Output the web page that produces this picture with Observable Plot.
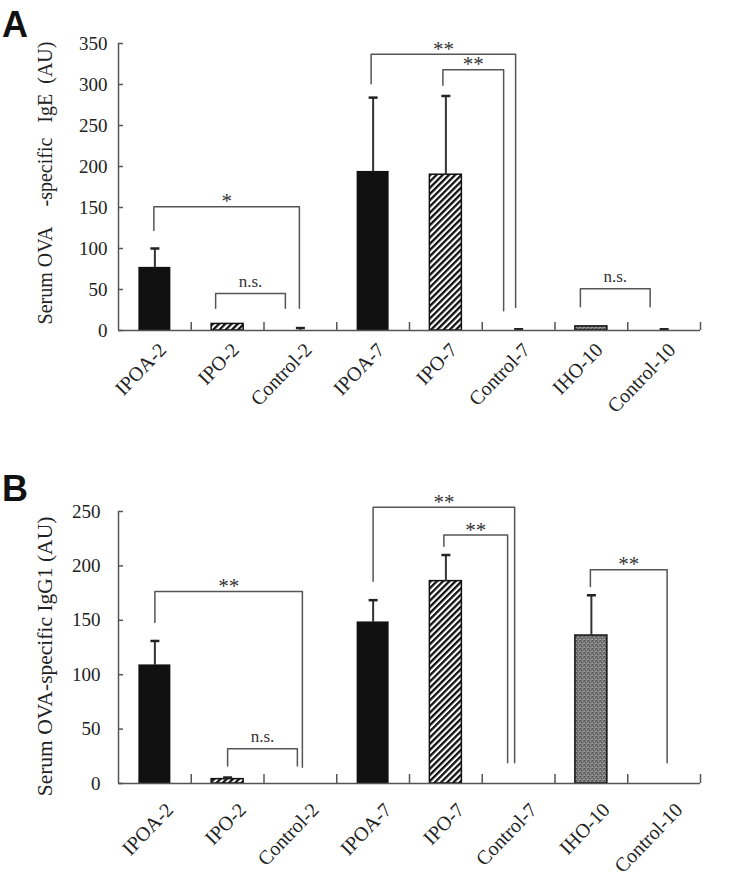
<!DOCTYPE html>
<html><head><meta charset="utf-8">
<script src="https://cdn.jsdelivr.net/npm/d3@7"></script>
<script src="https://cdn.jsdelivr.net/npm/@observablehq/plot@0.6"></script>
<style>
body{margin:0;background:#fff;width:729px;height:888px;position:relative;overflow:hidden;font-family:"Liberation Serif",serif;}
.panel{position:absolute;left:0;}
.letter{position:absolute;font-family:"Liberation Sans",Arial,sans-serif;font-weight:bold;font-size:36px;line-height:1;color:#111;}
</style></head><body>
<svg width="0" height="0" style="position:absolute">
<defs>
  <pattern id="hatch" width="4.4" height="4.4" patternUnits="userSpaceOnUse" patternTransform="rotate(45)">
    <rect width="4.4" height="4.4" fill="#fff"/>
    <rect width="2.3" height="4.4" fill="#111"/>
  </pattern>
  <pattern id="stipple" width="4" height="4" patternUnits="userSpaceOnUse">
    <rect width="4" height="4" fill="#7a7a7a"/>
    <rect x="0" y="0" width="1" height="1" fill="#4a4a4a"/>
    <rect x="2" y="1" width="1" height="1" fill="#a0a0a0"/>
    <rect x="1" y="2" width="1" height="1" fill="#505050"/>
    <rect x="3" y="3" width="1" height="1" fill="#989898"/>
    <rect x="3" y="1" width="1" height="1" fill="#5a5a5a"/>
    <rect x="0" y="3" width="1" height="1" fill="#a4a4a4"/>
  </pattern>
</defs></svg>
<div id="panelA" class="panel" style="top:0"></div>
<div id="panelB" class="panel" style="top:444px"></div>
<div class="letter" style="left:2px;top:7px">A</div>
<div class="letter" style="left:2px;top:471px">B</div>
<script>
// ---- data ----
const categories = ["IPOA-2", "IPO-2", "Control-2", "IPOA-7", "IPO-7", "Control-7", "IHO-10", "Control-10"];
const igE   = [77, 8, 0, 194, 190, 0, 5, 0];
const igESD = [23, 0, 3, 90, 96, 1.5, 0, 1.5];
const igG1   = [109, 4, 0, 148.5, 186, 0, 136, 0];
const igG1SD = [22, 1.5, 0, 20, 24, 0, 37, 0];
const yTicksA = [0, 50, 100, 150, 200, 250, 300, 350];
const yTicksB = [0, 50, 100, 150, 200, 250];
const yLabelA = "Serum OVA\u00a0\u00a0\u00a0\u00a0-specific\u00a0\u00a0\u00a0IgE\u00a0\u00a0(AU)";
const yLabelB = "Serum OVA-specific IgG1 (AU)";
// significance brackets: compared groups, bracket top, leg ends (in AU), label
const bracketFromA = ["IPOA-2", "IPO-2", "IPOA-7", "IPO-7", "IHO-10"];
const bracketToA   = ["Control-2", "Control-2", "Control-7", "Control-7", "Control-10"];
const bracketTopA  = [151, 45, 337, 318, 51];
const bracketLegFromA = [122, 27, 301, 299, 29];
const bracketLegToA   = [27, 27, 28, 24, 29];
const bracketLabelA = ["*", "n.s.", "**", "**", "n.s."];
const bracketFromB = ["IPOA-2", "IPO-2", "IPOA-7", "IPO-7", "IHO-10"];
const bracketToB   = ["Control-2", "Control-2", "Control-7", "Control-7", "Control-10"];
const bracketTopB  = [176.5, 32, 254, 228.5, 196.5];
const bracketLegFromB = [148, 16, 186, 218, 181];
const bracketLegToB   = [15, 16, 19, 19, 19];
const bracketLabelB = ["**", "n.s.", "**", "**", "**"];

// ---- layout / style ----
const W = 729, ML = 118, MR = 29;
const pxPerUnit = (W - ML - MR) / categories.length;
const nudgeA = [[-1, -1], [-12, -15], [-2, -3], [-3, -15], [-11, -14]]; // px
const nudgeB = [[0, 2], [0, -3], [0, -4], [-2, -11], [-1, 3]];
const fills = {IPOA: "#111", IPO: "url(#hatch)", IHO: "url(#stipple)", Control: "#111"};
const LINE = "#555";
const FONT = "Liberation Serif";

function panel(o) {
  const data = categories.map((c, i) => ({cat: c, i, group: c.split("-")[0], v: o.values[i], sd: o.sd[i]}));
  const xc = d => d.i + 0.5;
  const halfBar = 16 / pxPerUnit, halfCap = 4.5 / pxPerUnit;
  const idx = c => categories.indexOf(c) + 0.5;
  const br = o.from.map((f, k) => ({
    k, label: o.labels[k], top: o.top[k], legFrom: o.legFrom[k], legTo: o.legTo[k],
    xL: idx(f) + o.nudge[k][0] / pxPerUnit, xR: idx(o.to[k]) + o.nudge[k][1] / pxPerUnit
  }));
  const pts = br.flatMap(b => [
    {k: b.k, x: b.xL, y: b.legFrom}, {k: b.k, x: b.xL, y: b.top},
    {k: b.k, x: b.xR, y: b.top}, {k: b.k, x: b.xR, y: b.legTo}
  ]);
  const err = data.filter(d => d.sd > 0);
  const groups = ["IPOA", "IPO", "IHO"];
  return Plot.plot({
    width: W, height: o.height,
    marginLeft: ML, marginRight: MR, marginTop: o.marginTop, marginBottom: o.marginBottom,
    style: {fontFamily: FONT, fontSize: "19px", color: "#222", background: "transparent", overflow: "visible"},
    x: {type: "linear", domain: [0, categories.length]},
    y: {domain: [0, o.yMax]},
    marks: [
      ...groups.map(g => Plot.rectY(data.filter(d => d.group === g && d.v > 0), {
        x1: d => xc(d) - halfBar, x2: d => xc(d) + halfBar, y1: 0, y2: "v",
        fill: fills[g], stroke: "#111", strokeWidth: g === "IPOA" ? 0 : 1.5
      })),
      Plot.link(err, {x1: xc, x2: xc, y1: "v", y2: d => d.v + d.sd, stroke: "#333", strokeWidth: 2}),
      Plot.link(err, {x1: d => xc(d) - halfCap, x2: d => xc(d) + halfCap, y1: d => d.v + d.sd, y2: d => d.v + d.sd, stroke: "#222", strokeWidth: 2.5}),
      Plot.ruleX([0], {stroke: LINE, strokeWidth: 1.5}),
      Plot.ruleY([0], {stroke: LINE, strokeWidth: 1.5}),
      Plot.axisY({ticks: o.yTicks, tickSize: -5, tickFormat: () => "", label: null, stroke: LINE, strokeWidth: 1.5}),
      Plot.axisY({ticks: o.yTicks, tickSize: 0, tickPadding: o.tickPad, label: null, fontSize: 19, fontFamily: FONT}),
      Plot.axisX({ticks: d3.range(1, categories.length + 1), tickSize: -o.tickLen, tickFormat: () => "", label: null, stroke: LINE, strokeWidth: 1.5}),
      Plot.axisX({ticks: categories.map((_, i) => i + 0.5), tickFormat: t => categories[Math.round(t - 0.5)],
        tickRotate: -46, tickSize: 0, tickPadding: 12, dx: o.labelDx, dy: o.labelDyX, label: null, fontSize: 20, fontFamily: FONT}),
      Plot.line(pts, {x: "x", y: "y", z: "k", stroke: LINE, strokeWidth: 1.5}),
      Plot.text(br.filter(b => b.label !== "n.s."), {x: b => (b.xL + b.xR) / 2, y: "top", text: "label", dy: -5, fontSize: 21, fontFamily: FONT, fill: "#333"}),
      Plot.text(br.filter(b => b.label === "n.s."), {x: b => (b.xL + b.xR) / 2, y: "top", text: "label", dy: -12, fontSize: 17, fontFamily: FONT, fill: "#333"}),
      Plot.text([o.yLabel], {text: d => d, frameAnchor: "left", textAnchor: "middle", rotate: -90, dx: -73, dy: o.labelDy, fontSize: o.labelSize, fontFamily: FONT, fill: "#222"})
    ]
  });
}

document.getElementById("panelA").append(panel({
  values: igE, sd: igESD, yMax: 350, yTicks: yTicksA, yLabel: yLabelA,
  from: bracketFromA, to: bracketToA, top: bracketTopA, legFrom: bracketLegFromA, legTo: bracketLegToA, labels: bracketLabelA, nudge: nudgeA,
  height: 440, marginTop: 43, marginBottom: 110, tickLen: 8, tickPad: 11, labelDy: -4, labelSize: 20, labelDx: 8, labelDyX: 4
}));
document.getElementById("panelB").append(panel({
  values: igG1, sd: igG1SD, yMax: 250, yTicks: yTicksB, yLabel: yLabelB,
  from: bracketFromB, to: bracketToB, top: bracketTopB, legFrom: bracketLegFromB, legTo: bracketLegToB, labels: bracketLabelB, nudge: nudgeB,
  height: 444, marginTop: 67, marginBottom: 105, tickLen: 9, tickPad: 18, labelDy: 9, labelSize: 21.5, labelDx: 15, labelDyX: 11
}));
</script>
</body></html>
